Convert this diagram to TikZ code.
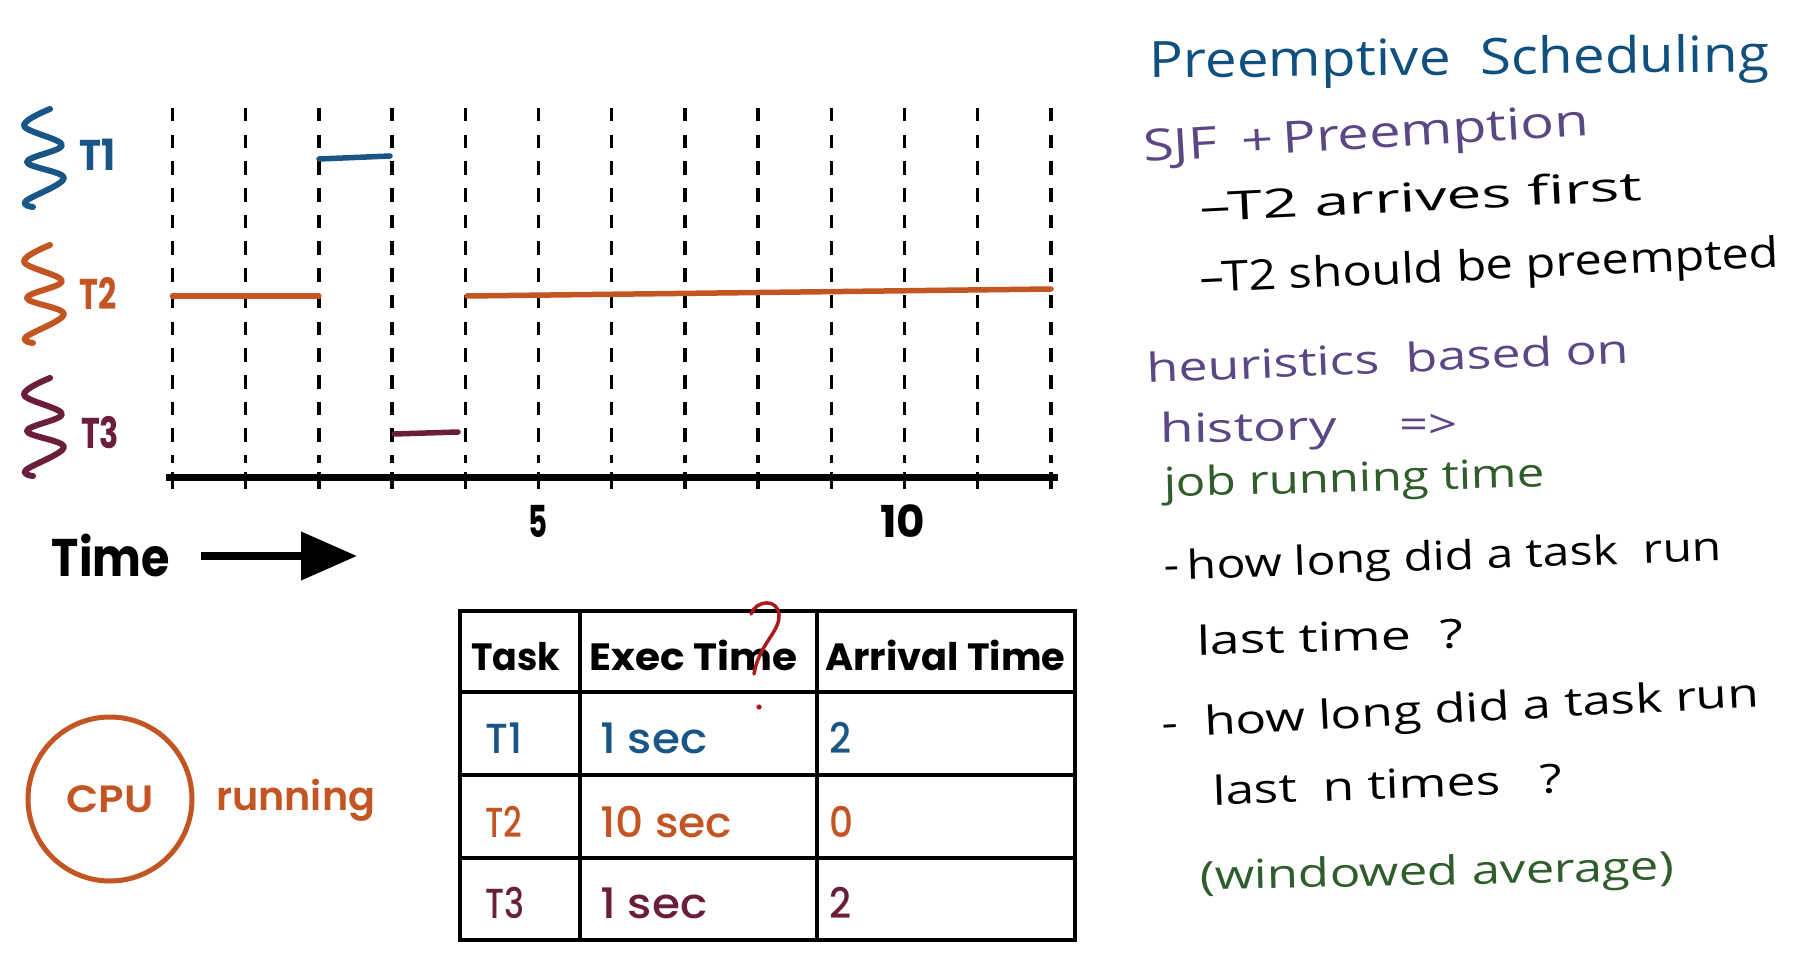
\documentclass[tikz,border=0pt]{standalone}
\usepackage{fontspec}
\usepackage{graphicx}
\usetikzlibrary{arrows.meta}
\setmainfont{Poppins}
\newfontfamily\handfont{Open Sans}
\newfontfamily\medfont{Poppins Medium}
\newfontfamily\semifont{Poppins SemiBold}
\definecolor{tone}{HTML}{195587}
\definecolor{ttwo}{HTML}{C35523}
\definecolor{tthree}{HTML}{6A1E3C}
\definecolor{ntitle}{HTML}{10507E}
\definecolor{npurple}{HTML}{5C4785}
\definecolor{ngreen}{HTML}{2F5D2B}
\definecolor{qred}{HTML}{A81C1C}
\newcommand\fitw[2]{\resizebox{#1pt}{\height}{#2}}
\begin{document}
\begin{tikzpicture}[x=1pt,y=-1pt,
  gridline/.style={line width=3.3pt, dash pattern=on 13.5pt off 13.2pt},
  tickline/.style={line width=3.3pt},
  seg/.style={line width=5.5pt, line cap=round},
  squigline/.style={line width=6pt, line cap=round, line join=round},
  tlabel/.style={inner sep=0pt, font=\fontsize{43}{50}\selectfont\bfseries},
  axnum/.style={inner sep=0pt, font=\fontsize{44}{50}\selectfont\bfseries},
  tbl/.style={line width=4pt},
  thead/.style={inner sep=0pt, anchor=base west, font=\fontsize{38}{44}\selectfont\bfseries},
  tbody/.style={inner sep=0pt, anchor=base west, font=\medfont\fontsize{42}{48}\selectfont},
  hand/.style={inner sep=0pt, anchor=base west, font=\handfont\fontsize{40}{48}\selectfont},
]
\useasboundingbox[fill=white] (0,0) rectangle (1811,965);

% ---------- squiggles and task labels ----------
\foreach \c/\yy in {tone/109, ttwo/245, tthree/378} {
  \draw[squigline, \c] plot[smooth, tension=0.6] coordinates
    {(50,\yy) (24,\yy+17) (62,\yy+36) (27,\yy+53) (64,\yy+69) (26,\yy+92) (33,\yy+98)};
}
\node[tlabel, tone]   (lt1) at (97,155) {\fitw{36}{T1}};
\node[tlabel, ttwo]   (lt2) at (98,293) {\fitw{37}{T2}};
\node[tlabel, tthree] (lt3) at (100,433) {\fitw{38}{T3}};

% ---------- grid ----------
\foreach \i in {0,...,12} {
  \draw[gridline] ({172.5+73.2*\i},108) -- ({172.5+73.2*\i},463);
  \draw[tickline] ({172.5+73.2*\i},472) -- ({172.5+73.2*\i},489);
}
\draw[line width=7pt] (166,477) -- (1058,477);

% ---------- gantt segments ----------
\draw[seg, ttwo] (172.5,296) -- (318.9,296);
\draw[seg, tone] (319,159) -- (390,156);
\draw[seg, tthree] (394,434) -- (458,432);
\draw[seg, ttwo] (467,296) -- (1051,289);

% ---------- axis numbers and time arrow ----------
\node[axnum] (n5) at (538,521) {\fitw{19}{5}};
\node[axnum] (n10) at (903,521) {\fitw{45}{10}};
\node[inner sep=0pt, font=\fontsize{53}{60}\selectfont\bfseries] (timelbl) at (111,555) {\fitw{118}{Time}};
\coordinate (tarrS) at (201,556);
\coordinate (tarrE) at (357,556);
\draw[line width=7.5pt, -{Triangle[length=56pt,width=47pt]}] (tarrS) -- (tarrE);

% ---------- CPU ----------
\node[circle, draw=ttwo, line width=5pt, minimum size=164pt, inner sep=0pt,
      text=ttwo, font=\semifont\fontsize{38}{44}\selectfont] (cpu) at (110,799) {\fitw{87}{CPU}};
\node[inner sep=0pt, anchor=base west, text=ttwo, font=\semifont\fontsize{40}{46}\selectfont] (run) at (216,810) {\fitw{159}{running}};

% ---------- table ----------
\draw[tbl] (460,611) rectangle (1075,940);
\draw[tbl] (460,692) -- (1075,692);
\draw[tbl] (460,775) -- (1075,775);
\draw[tbl] (460,858) -- (1075,858);
\draw[tbl] (580,611) -- (580,940);
\draw[tbl] (817,611) -- (817,940);

\node[thead] (hTask) at (471,670) {\fitw{89}{Task}};
\node[thead] (hExec) at (589,670) {\fitw{208}{Exec Time}};
\node[thead] (hArr)  at (825,670) {\fitw{240}{Arrival Time}};

\node[tbody, tone] (r1a) at (485,753) {\fitw{37}{T1}};
\node[tbody, tone] (r1b) at (600,753) {\fitw{107}{1 sec}};
\node[tbody, tone] (r1c) at (829,753) {\fitw{22}{2}};
\node[tbody, ttwo] (r2a) at (485,837) {\fitw{37}{T2}};
\node[tbody, ttwo] (r2b) at (600,837) {\fitw{132}{10 sec}};
\node[tbody, ttwo] (r2c) at (829,837) {\fitw{24}{0}};
\node[tbody, tthree] (r3a) at (485,918) {\fitw{39}{T3}};
\node[tbody, tthree] (r3b) at (600,918) {\fitw{107}{1 sec}};
\node[tbody, tthree] (r3c) at (829,918) {\fitw{22}{2}};

% red question mark
\draw[qred, line width=3.5pt, line cap=round] (751,614) .. controls (756,600) and (778,598) .. (779,615)
   .. controls (780,632) and (759,644) .. (754,674);
\fill[qred] (759,707) circle (2.6);

% ---------- handwritten notes ----------
\node[hand, ntitle, rotate=0.6, font=\handfont\fontsize{50}{56}\selectfont] (title) at (1149,78) {\fitw{620}{Preemptive\ \ Scheduling}};
\node[hand, npurple, rotate=3.4, font=\handfont\fontsize{44}{50}\selectfont] (sjf) at (1144,162) {\fitw{446}{SJF \,+\,Preemption}};
\node[hand, black, rotate=2.8] (arr) at (1200,222) {\fitw{443}{–T2 arrives first}};
\node[hand, black, rotate=2.6, font=\handfont\fontsize{42}{48}\selectfont] (pre) at (1200,293) {\fitw{580}{–T2 should be preempted}};
\node[hand, npurple, rotate=2.4] (heur) at (1147,383) {\fitw{483}{heuristics \ based on}};
\node[hand, npurple, rotate=1] (hist) at (1160,443) {\fitw{177}{history}};
\node[inner sep=0pt, npurple, font=\handfont\fontsize{40}{48}\selectfont] (impl) at (1428,426) {\fitw{58}{=>}};
\node[hand, ngreen, rotate=1.5] (job) at (1164,497) {\fitw{381}{job running time}};
\node[hand, black, rotate=2] (q1) at (1164,580) {\fitw{558}{-\,how long did a task \ run}};
\node[hand, black, rotate=1.5] (q1b) at (1197,655) {\fitw{266}{last time \ ?}};
\node[hand, black, rotate=3] (q2) at (1162,738) {\fitw{598}{- \ how long did a task run}};
\node[hand, black, rotate=2] (q2b) at (1213,805) {\fitw{350}{last \ n times \ \ ?}};
\node[hand, ngreen, rotate=1.2] (win) at (1200,890) {\fitw{474}{(windowed average)}};
\end{tikzpicture}
\end{document}
